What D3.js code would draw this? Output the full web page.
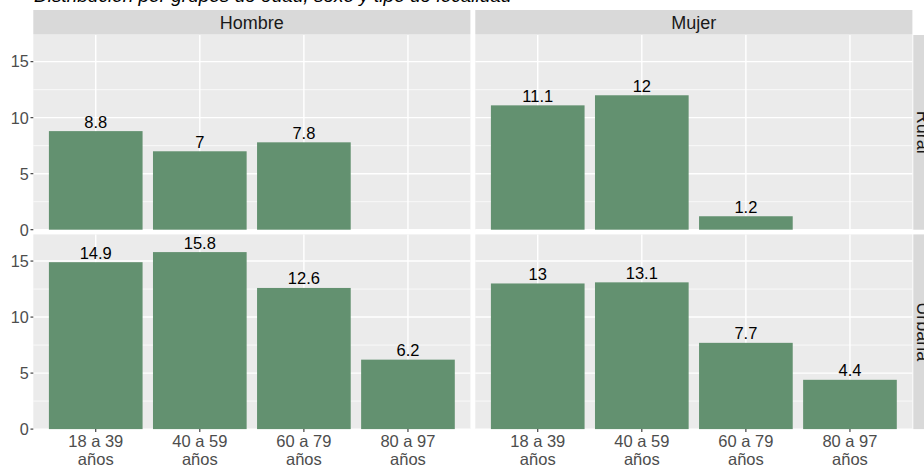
<!DOCTYPE html>
<html>
<head>
<meta charset="utf-8">
<script src="https://cdn.jsdelivr.net/npm/d3@7"></script>
<style>
  html, body { margin: 0; padding: 0; background: #ffffff; }
  svg { display: block; font-family: "Liberation Sans", Arial, Helvetica, sans-serif; }
</style>
</head>
<body>
<svg id="chart" width="924" height="468"></svg>
<script>
// ---- Data ----
const title = "Distribución por grupos de edad, sexo y tipo de localidad";
const categories = ["18 a 39 años", "40 a 59 años", "60 a 79 años", "80 a 97 años"];
const sexes = ["Hombre", "Mujer"];
const localities = ["Rural", "Urbana"];
const hombreRural  = [8.8, 7, 7.8, null];
const mujerRural   = [11.1, 12, 1.2, null];
const hombreUrbana = [14.9, 15.8, 12.6, 6.2];
const mujerUrbana  = [13, 13.1, 7.7, 4.4];
const yTicks = [0, 5, 10, 15];
const yMinorTicks = [2.5, 7.5, 12.5];

const panelData = {
  "Hombre|Rural": hombreRural,
  "Mujer|Rural": mujerRural,
  "Hombre|Urbana": hombreUrbana,
  "Mujer|Urbana": mujerUrbana
};

// ---- Layout ----
const svg = d3.select("#chart");
const colX = [33.3, 475.3];
const panelW = 437.1;
const rowY = [35, 234.4];
const panelH = 194.7;
const stripTop = 10;
const stripH = 24.6;
const rightStripX = 913.3;
const rightStripW = 24.6;
const yMax = d3.max([...hombreRural, ...mujerRural, ...hombreUrbana, ...mujerUrbana]) * 1.1;

const barColor = "#639170";

// title
svg.append("text")
  .attr("x", 34)
  .attr("y", 1.5)
  .attr("font-size", 19)
  .attr("font-style", "italic")
  .attr("fill", "#000")
  .text(title);

const x = d3.scaleBand().domain(categories).range([0, panelW]).paddingInner(0.1).paddingOuter(0.15);

sexes.forEach((sex, ci) => {
  // top strip
  svg.append("rect")
    .attr("x", colX[ci]).attr("y", stripTop)
    .attr("width", panelW).attr("height", stripH)
    .attr("fill", "#d9d9d9");
  svg.append("text")
    .attr("x", colX[ci] + panelW / 2)
    .attr("y", stripTop + 19.2)
    .attr("text-anchor", "middle")
    .attr("font-size", 18)
    .attr("fill", "#1a1a1a")
    .text(sex);
});

localities.forEach((loc, ri) => {
  // right strip
  svg.append("rect")
    .attr("x", rightStripX).attr("y", rowY[ri])
    .attr("width", rightStripW).attr("height", panelH)
    .attr("fill", "#d9d9d9");
  svg.append("text")
    .attr("transform", `translate(${rightStripX + 3.6},${rowY[ri] + panelH / 2}) rotate(90)`)
    .attr("text-anchor", "middle")
    .attr("font-size", 18)
    .attr("fill", "#1a1a1a")
    .text(loc);
});

localities.forEach((loc, ri) => {
  const y = d3.scaleLinear().domain([0, yMax]).range([rowY[ri] + panelH, rowY[ri]]);
  sexes.forEach((sex, ci) => {
    const g = svg.append("g").attr("transform", `translate(${colX[ci]},0)`);
    const vals = panelData[sex + "|" + loc];
    g.append("rect")
      .attr("x", 0).attr("y", rowY[ri])
      .attr("width", panelW).attr("height", panelH)
      .attr("fill", "#ebebeb");
    // minor grid
    g.selectAll(".minor").data(yMinorTicks).enter().append("line")
      .attr("x1", 0).attr("x2", panelW)
      .attr("y1", d => y(d)).attr("y2", d => y(d))
      .attr("stroke", "#ffffff").attr("stroke-width", 0.7);
    // major grid
    g.selectAll(".major").data(yTicks).enter().append("line")
      .attr("x1", 0).attr("x2", panelW)
      .attr("y1", d => y(d)).attr("y2", d => y(d))
      .attr("stroke", "#ffffff").attr("stroke-width", 1.4);
    g.selectAll(".vgrid").data(categories).enter().append("line")
      .attr("x1", d => x(d) + x.bandwidth() / 2).attr("x2", d => x(d) + x.bandwidth() / 2)
      .attr("y1", rowY[ri]).attr("y2", rowY[ri] + panelH)
      .attr("stroke", "#ffffff").attr("stroke-width", 1.4);
    // bars
    const data = categories.map((c, i) => ({ c, v: vals[i] })).filter(d => d.v != null);
    g.selectAll(".bar").data(data).enter().append("rect")
      .attr("x", d => x(d.c))
      .attr("y", d => y(d.v))
      .attr("width", x.bandwidth())
      .attr("height", d => y(0) - y(d.v))
      .attr("fill", barColor);
    g.selectAll(".lbl").data(data).enter().append("text")
      .attr("x", d => x(d.c) + x.bandwidth() / 2)
      .attr("y", d => y(d.v) - 3.6)
      .attr("text-anchor", "middle")
      .attr("font-size", 16.5)
      .attr("fill", "#000")
      .text(d => d.v);

    // x axis (bottom row only)
    if (ri === localities.length - 1) {
      const base = rowY[ri] + panelH;
      categories.forEach(c => {
        const cx = x(c) + x.bandwidth() / 2;
        g.append("line")
          .attr("x1", cx).attr("x2", cx)
          .attr("y1", base).attr("y2", base + 2.8)
          .attr("stroke", "#333333").attr("stroke-width", 1.1);
        const parts = c.split(" años");
        const t = g.append("text")
          .attr("x", cx)
          .attr("text-anchor", "middle")
          .attr("font-size", 16.5)
          .attr("fill", "#4d4d4d");
        t.append("tspan").attr("x", cx).attr("y", base + 17.4).text(parts[0]);
        t.append("tspan").attr("x", cx).attr("y", base + 35.6).text("años");
      });
    }
  });

  // y axis (left column)
  yTicks.forEach(tk => {
    svg.append("line")
      .attr("x1", colX[0] - 2.8).attr("x2", colX[0])
      .attr("y1", y(tk)).attr("y2", y(tk))
      .attr("stroke", "#333333").attr("stroke-width", 1.1);
    svg.append("text")
      .attr("x", colX[0] - 4.5)
      .attr("y", y(tk))
      .attr("dy", "0.36em")
      .attr("text-anchor", "end")
      .attr("font-size", 16.2)
      .attr("fill", "#4d4d4d")
      .text(tk);
  });
});
</script>
</body>
</html>
